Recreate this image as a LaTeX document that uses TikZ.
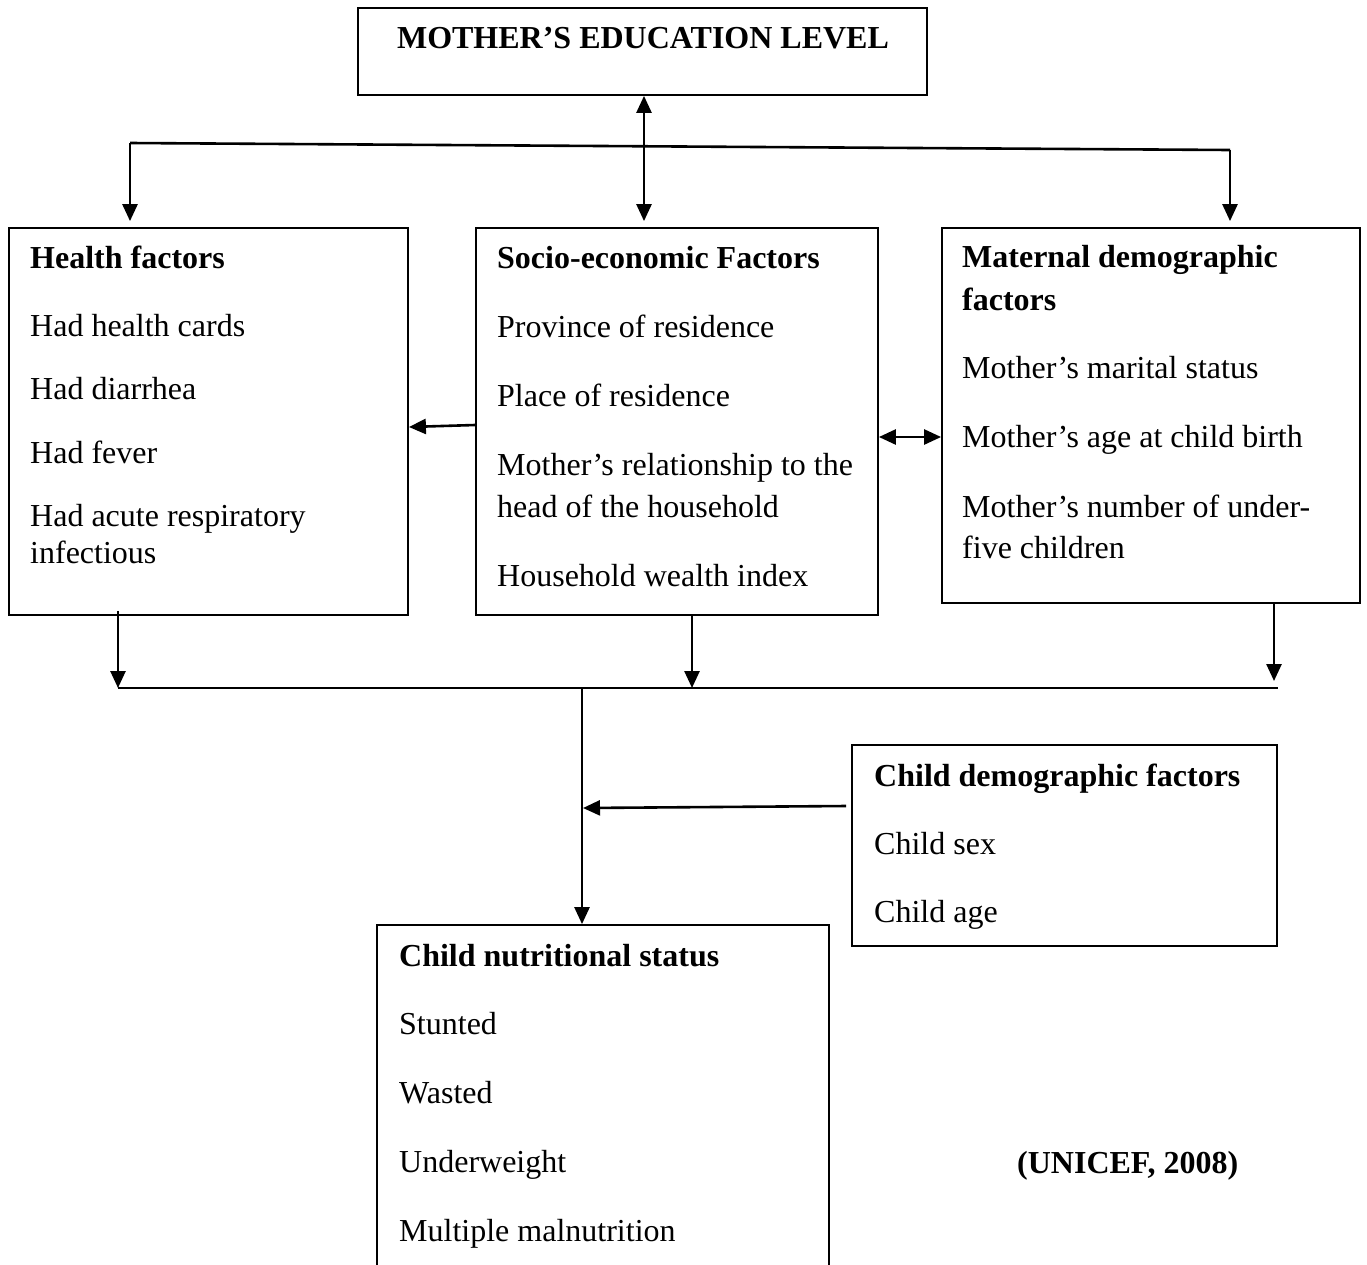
\documentclass[tikz,border=0pt]{standalone}
\usepackage{fontspec}
\setmainfont{Liberation Serif}
\usetikzlibrary{arrows.meta,fit}
\begin{document}
\begin{tikzpicture}[x=1pt,y=-1pt,
  box/.style={draw, line width=1.8pt, inner sep=0pt},
  txt/.style={anchor=base west, inner sep=0pt, font=\fontsize{32}{38}\selectfont},
  hd/.style={anchor=base west, inner sep=0pt, font=\fontsize{32}{38}\selectfont\bfseries},
  conn/.style={line width=2.6pt},
  arr/.style={conn, -{Triangle[length=17pt,width=15pt]}},
  darr/.style={conn, {Triangle[length=17pt,width=15pt]}-{Triangle[length=17pt,width=15pt]}}]
\useasboundingbox (0,0) rectangle (1367,1264);
\path[fill=white] (0,0) rectangle (1367,1264);

% boxes
\node[box, fit={(358,8) (927,95)}] (top) {};
\node[box, fit={(9,228) (408,615)}] (health) {};
\node[box, fit={(476,228) (878,615)}] (socio) {};
\node[box, fit={(942,228) (1360,603)}] (maternal) {};
\node[box, fit={(852,745) (1277,946)}] (child) {};
\node[box, fit={(377,925) (829,1290)}] (nutr) {};

% texts
\node[hd, anchor=base] (ttop) at (643,48) {MOTHER’S EDUCATION LEVEL};

\node[hd] (h0) at (30,268) {Health factors};
\node[txt] (h1) at (30,336) {Had health cards};
\node[txt] (h2) at (30,399) {Had diarrhea};
\node[txt] (h3) at (30,463) {Had fever};
\node[txt] (h4) at (30,526) {Had acute respiratory};
\node[txt] (h5) at (30,563) {infectious};

\node[hd] (s0) at (497,268) {Socio-economic Factors};
\node[txt] (s1) at (497,337) {Province of residence};
\node[txt] (s2) at (497,406) {Place of residence};
\node[txt] (s3) at (497,475) {Mother’s relationship to the};
\node[txt] (s4) at (497,517) {head of the household};
\node[txt] (s5) at (497,586) {Household wealth index};

\node[hd] (m0) at (962,267) {Maternal demographic};
\node[hd] (m0b) at (962,310) {factors};
\node[txt] (m1) at (962,378) {Mother’s marital status};
\node[txt] (m2) at (962,447) {Mother’s age at child birth};
\node[txt] (m3) at (962,517) {Mother’s number of under-};
\node[txt] (m4) at (962,558) {five children};

\node[hd] (c0) at (874,786) {Child demographic factors};
\node[txt] (c1) at (874,854) {Child sex};
\node[txt] (c2) at (874,922) {Child age};

\node[hd] (n0) at (399,966) {Child nutritional status};
\node[txt] (n1) at (399,1034) {Stunted};
\node[txt] (n2) at (399,1103) {Wasted};
\node[txt] (n3) at (399,1172) {Underweight};
\node[txt] (n4) at (399,1241) {Multiple malnutrition};

\node[hd] (src) at (1017,1173) {(UNICEF, 2008)};

% connectors
\coordinate (mx) at (644,0);
\draw[darr] (top.south -| mx) -- ([yshift=6pt]socio.north -| mx);
\coordinate (tl) at (130,143);
\coordinate (tr) at (1230,150);
\draw[conn] (tl) -- (tr);
\draw[arr] (tl) -- ([yshift=6pt]health.north -| tl);
\draw[arr] (tr) -- ([yshift=6pt]maternal.north -| tr);

\coordinate (ys) at (0,425);
\coordinate (yh) at (0,427);
\draw[arr] (socio.west |- ys) -- (health.east |- yh);
\coordinate (ym) at (0,437);
\draw[darr] (socio.east |- ym) -- (maternal.west |- ym);

\coordinate (b1) at (118,688);
\coordinate (b2) at (692,688);
\coordinate (b3) at (1274,681);
\coordinate (b4) at (1278,688);
\draw[arr] ([yshift=5pt]health.south -| b1) -- (b1);
\draw[arr] (socio.south -| b2) -- (b2);
\draw[arr] (maternal.south -| b3) -- (b3);
\draw[conn] (b1) -- (b4);
\coordinate (j) at (582,688);
\draw[arr] (j) -- (nutr.north -| j);
\coordinate (yc) at (0,806);
\coordinate (cj) at (583,808);
\draw[arr] ([xshift=-5pt]child.west |- yc) -- (cj);
\end{tikzpicture}
\end{document}
